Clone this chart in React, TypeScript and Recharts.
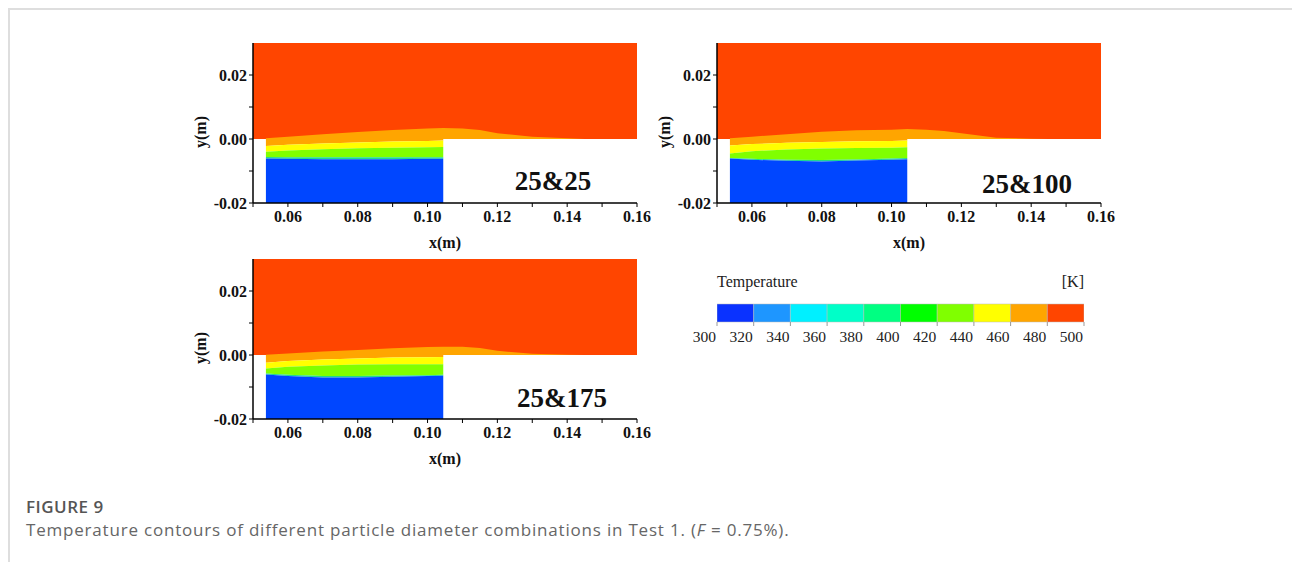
import React from 'react';
import { ComposedChart, Area, XAxis, YAxis, BarChart, Bar, Label } from 'recharts';

// ---------- data ----------
const N = null;
// x positions (m) at which the contour boundaries are sampled
const xGrid = [0.05, 0.0537, 0.06, 0.07, 0.08, 0.09, 0.10, 0.1045, 0.11, 0.115, 0.12, 0.13, 0.14, 0.145, 0.16];
// x positions covered by the bed (block) region
const blockX = [0.0537, 0.06, 0.07, 0.08, 0.09, 0.10, 0.1045];

const xTicks = [0.05, 0.06, 0.07, 0.08, 0.09, 0.10, 0.11, 0.12, 0.13, 0.14, 0.15, 0.16];
const yTicks = [-0.02, -0.01, 0.0, 0.01, 0.02];
const xDomain = [0.05, 0.16];
const yDomain = [-0.02, 0.03];
const gasRange = [0, 0.03];
const bedBottom = -0.02;

// case labels
const cases = ['25&25', '25&100', '25&175'];

// upper edge of the 460-480 K layer above the bed (over xGrid)
const bump25_25 = [N, 0.0002, 0.0007, 0.0015, 0.0022, 0.0028, 0.0033, 0.0034, 0.0033, 0.0028, 0.0018, 0.0007, 0.0002, 0, N];
const bump25_100 = [N, 0.0002, 0.0007, 0.0015, 0.0023, 0.0027, 0.0029, 0.0031, 0.0029, 0.0025, 0.0018, 0.0004, 0.0001, 0, N];
const bump25_175 = [N, 0.0001, 0.0005, 0.0011, 0.0016, 0.0021, 0.0025, 0.0026, 0.0026, 0.0022, 0.0013, 0.0004, 0.0001, 0, N];

// boundaries inside the bed (over blockX)
const orangeBottom25_25 = [-0.0022, -0.0018, -0.0014, -0.0011, -0.0008, -0.0006, -0.0005];
const yellowBottom25_25 = [-0.0040, -0.0036, -0.0032, -0.0029, -0.0027, -0.0026, -0.0025];
const limeBottom25_25 = [-0.0056, -0.0057, -0.0057, -0.0057, -0.0057, -0.0057, -0.0057];
const blueTop25_25 = [-0.0061, -0.0062, -0.0063, -0.0063, -0.0063, -0.0062, -0.0062];

const orangeBottom25_100 = [-0.0020, -0.0016, -0.0012, -0.0009, -0.0007, -0.0006, -0.0005];
const yellowBottom25_100 = [-0.0045, -0.0038, -0.0033, -0.0030, -0.0028, -0.0027, -0.0026];
const limeBottom25_100 = [-0.0059, -0.0062, -0.0065, -0.0066, -0.0064, -0.0061, -0.0059];
const blueTop25_100 = [-0.0061, -0.0065, -0.0068, -0.0070, -0.0067, -0.0065, -0.0063];

const orangeBottom25_175 = [-0.0024, -0.0019, -0.0014, -0.0011, -0.0008, -0.0007, -0.0006];
const yellowBottom25_175 = [-0.0042, -0.0037, -0.0033, -0.0030, -0.0029, -0.0029, -0.0029];
const limeBottom25_175 = [-0.0058, -0.0062, -0.0066, -0.0066, -0.0064, -0.0063, -0.0062];
const blueTop25_175 = [-0.0061, -0.0066, -0.0070, -0.0070, -0.0068, -0.0066, -0.0065];

// colour bar
const levels = [300, 320, 340, 360, 380, 400, 420, 440, 460, 480, 500];
const levelColors = ['#0A32FF', '#1E96FF', '#00F0FF', '#00FFC8', '#00FF82', '#00FF00', '#80FF00', '#FFFF00', '#FFA500', '#FF4500'];

// ---------- styles ----------
const SERIF = '"Liberation Serif", "Times New Roman", serif';
const SANS = '"Open Sans", "Noto Sans", sans-serif';
const C_GAS = '#FF4500';
const C_ORANGE = '#FFA500';
const C_YELLOW = '#FFFF00';
const C_LIME = '#80FF00';
const C_GREEN = '#1ED890';
const C_BLUE = '#0046FF';

function buildRows(bump: (number | null)[], ob: number[], yb: number[], lb: number[], bt: number[]) {
  return xGrid.map((x, i) => {
    const bi = blockX.indexOf(x);
    const inBed = bi >= 0;
    return {
      x,
      gas: gasRange,
      bump: bump[i] == null ? null : [0, bump[i]],
      orange: inBed ? [ob[bi], 0] : null,
      yellow: inBed ? [yb[bi], ob[bi]] : null,
      lime: inBed ? [lb[bi], yb[bi]] : null,
      green: inBed ? [bt[bi], lb[bi]] : null,
      blue: inBed ? [bedBottom, bt[bi]] : null,
    };
  });
}

const rows25_25 = buildRows(bump25_25, orangeBottom25_25, yellowBottom25_25, limeBottom25_25, blueTop25_25);
const rows25_100 = buildRows(bump25_100, orangeBottom25_100, yellowBottom25_100, limeBottom25_100, blueTop25_100);
const rows25_175 = buildRows(bump25_175, orangeBottom25_175, yellowBottom25_175, limeBottom25_175, blueTop25_175);

const tickStyle = { fontFamily: SERIF, fontWeight: 700, fontSize: 16, fill: '#111' };
const fmt = (v: number) => (Math.round(v * 100) % 2 === 0 ? v.toFixed(2) : '');

const XLabel = (props: any) => {
  const vb = props.viewBox || {};
  return (
    <text x={vb.x + vb.width / 2} y={vb.y + 39} textAnchor="middle" dominantBaseline="central"
      style={{ fontFamily: SERIF, fontWeight: 700, fontSize: 16, fill: '#111' }}>x(m)</text>
  );
};
const YLabel = (props: any) => {
  const vb = props.viewBox || {};
  const cx = vb.x + 10;
  const cy = vb.y + vb.height / 2 + 9;
  return (
    <text x={cx} y={cy} textAnchor="middle" dominantBaseline="central" transform={`rotate(-90, ${cx}, ${cy})`}
      style={{ fontFamily: SERIF, fontWeight: 700, fontSize: 16, fill: '#111' }}>y(m)</text>
  );
};

function Contour({ rows }: { rows: any[] }) {
  const common = { type: 'linear' as const, stroke: 'none', fillOpacity: 1, isAnimationActive: false, dot: false, activeDot: false };
  return (
    <ComposedChart width={470} height={230} data={rows} margin={{ top: 13, right: 23, left: 0, bottom: 0 }}>
      <XAxis dataKey="x" type="number" domain={xDomain} ticks={xTicks} interval={0} allowDataOverflow
        tickFormatter={fmt} tick={tickStyle} tickSize={4} tickMargin={4} height={57}
        axisLine={{ stroke: '#000', strokeWidth: 1.5 }} tickLine={{ stroke: '#000' }}>
        <Label content={<XLabel />} />
      </XAxis>
      <YAxis type="number" domain={yDomain} ticks={yTicks} interval={0} allowDataOverflow
        tickFormatter={fmt} tick={tickStyle} tickSize={4} tickMargin={2} width={63}
        axisLine={{ stroke: '#000', strokeWidth: 1.5 }} tickLine={{ stroke: '#000' }}>
        <Label content={<YLabel />} />
      </YAxis>
      <Area dataKey="gas" fill={C_GAS} {...common} />
      <Area dataKey="bump" fill={C_ORANGE} {...common} />
      <Area dataKey="orange" fill={C_ORANGE} {...common} />
      <Area dataKey="yellow" fill={C_YELLOW} {...common} />
      <Area dataKey="lime" fill={C_LIME} {...common} />
      <Area dataKey="green" fill={C_GREEN} {...common} />
      <Area dataKey="blue" fill={C_BLUE} {...common} />
    </ComposedChart>
  );
}

const barRow: any = { name: 'T', base: levels[0] };
levelColors.forEach((_, i) => { barRow['s' + i] = levels[i + 1] - levels[i]; });
const barData = [barRow];

const CbTick = (props: any) => {
  const { x, y, payload } = props;
  return (
    <text x={x - 1} y={y} dy="0.71em" textAnchor="end"
      style={{ fontFamily: SERIF, fontSize: 15.5, fill: '#222' }}>{payload.value}</text>
  );
};

function ColorBar() {
  return (
    <BarChart width={440} height={100} data={barData} layout="vertical" barCategoryGap={0}
      margin={{ top: 44, right: 36, left: 37, bottom: 0 }}>
      <XAxis type="number" domain={[levels[0], levels[levels.length - 1]]} ticks={levels} interval={0} allowDataOverflow
        tick={<CbTick />} tickSize={4} tickMargin={5} height={38}
        axisLine={false} tickLine={{ stroke: '#999' }} />
      <YAxis type="category" dataKey="name" hide />
      <Bar dataKey="base" stackId="cb" fill="transparent" isAnimationActive={false} />
      {levelColors.map((c, i) => (
        <Bar key={i} dataKey={'s' + i} stackId="cb" fill={c} stroke="#bbb" strokeWidth={0.5} isAnimationActive={false} />
      ))}
    </BarChart>
  );
}

const annot: React.CSSProperties = {
  position: 'absolute', fontFamily: SERIF, fontWeight: 700, fontSize: 27, color: '#111',
  transform: 'translate(-50%, -50%)', whiteSpace: 'nowrap', lineHeight: 1,
};

export default function App() {
  return (
    <div style={{ position: 'absolute', left: 0, top: 0, width: 1292, height: 562, background: '#fff', overflow: 'hidden' }}>
      <div style={{ position: 'absolute', left: 8, top: 8, width: 1284, height: 554, borderTop: '2px solid #dedede', borderLeft: '2px solid #dedede' }} />
      <div style={{ position: 'absolute', left: 190, top: 30 }}><Contour rows={rows25_25} /></div>
      <div style={{ position: 'absolute', left: 654, top: 30 }}><Contour rows={rows25_100} /></div>
      <div style={{ position: 'absolute', left: 190, top: 246 }}><Contour rows={rows25_175} /></div>
      <div style={{ position: 'absolute', left: 680, top: 260 }}><ColorBar /></div>
      <div style={{ ...annot, left: 553, top: 181 }}>{cases[0]}</div>
      <div style={{ ...annot, left: 1027, top: 184 }}>{cases[1]}</div>
      <div style={{ ...annot, left: 562, top: 398 }}>{cases[2]}</div>
      <div style={{ position: 'absolute', left: 717, top: 273, fontFamily: SERIF, fontSize: 16, color: '#222', lineHeight: '18px' }}>Temperature</div>
      <div style={{ position: 'absolute', left: 1044, width: 40, textAlign: 'right', top: 273, fontFamily: SERIF, fontSize: 16, color: '#222', lineHeight: '18px' }}>[K]</div>
      <div style={{ position: 'absolute', left: 26, top: 497, fontFamily: SANS, fontSize: 17, letterSpacing: 0.5, fontWeight: 600, color: '#555', lineHeight: '20px' }}>FIGURE 9</div>
      <div style={{ position: 'absolute', left: 26, top: 520, fontFamily: SANS, fontSize: 17, letterSpacing: 0.8, color: '#666', lineHeight: '20px', whiteSpace: 'nowrap' }}>
        Temperature contours of different particle diameter combinations in Test 1. (<i>F</i> = 0.75%).
      </div>
    </div>
  );
}
